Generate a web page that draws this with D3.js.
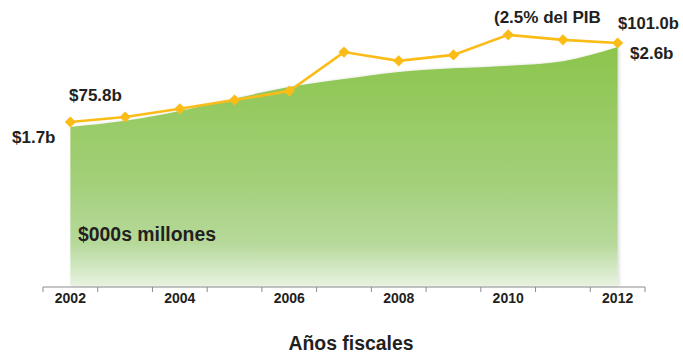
<!DOCTYPE html>
<html>
<head>
<meta charset="utf-8">
<script src="https://cdn.jsdelivr.net/npm/d3@7"></script>
<style>
  body { margin: 0; background: #fff; }
  svg { display: block; font-family: "Liberation Sans", Arial, sans-serif; }
  text { fill: #231f20; font-weight: bold; }
</style>
</head>
<body>
<svg id="chart" width="683" height="354"></svg>
<script>
// Fiscal years
const years = [2002, 2003, 2004, 2005, 2006, 2007, 2008, 2009, 2010, 2011, 2012];
// Yellow line series ($b)
const lineValues = [75.8, 77.4, 80.0, 82.8, 85.7, 98.1, 95.3, 97.2, 103.6, 102.0, 101.0];
// Green area series ($b)
const areaValues = [1.7, 1.77, 1.88, 2.02, 2.15, 2.24, 2.32, 2.36, 2.39, 2.44, 2.6];
// Years that get a tick label
const tickYears = [2002, 2004, 2006, 2008, 2010, 2012];

const svg = d3.select("#chart");

// Scales
const x = d3.scaleBand()
    .domain(years)
    .range([43, 645])
    .padding(0);
const cx = d => x(d) + x.bandwidth() / 2;

const baseY = 287;

const yArea = d3.scaleLinear()
    .domain([1.7, 2.6])
    .range([127, 47]);

const yLine = d3.scaleLinear()
    .domain([75.8, 101.0])
    .range([122, 43]);

// Gradient for the area
const defs = svg.append("defs");
const grad = defs.append("linearGradient")
    .attr("id", "areaGrad")
    .attr("gradientUnits", "userSpaceOnUse")
    .attr("x1", 0).attr("y1", 45)
    .attr("x2", 0).attr("y2", baseY);
grad.append("stop").attr("offset", "0%").attr("stop-color", "#8cc54c");
grad.append("stop").attr("offset", "55%").attr("stop-color", "#a2cf78");
grad.append("stop").attr("offset", "82%").attr("stop-color", "#b6d99a");
grad.append("stop").attr("offset", "100%").attr("stop-color", "#e9f3e2");

const shadow = defs.append("filter").attr("id", "shadow")
    .attr("x", "-5%").attr("y", "-5%").attr("width", "110%").attr("height", "110%");
shadow.append("feDropShadow")
    .attr("dx", 1.5).attr("dy", 0).attr("stdDeviation", 1.5)
    .attr("flood-color", "#000").attr("flood-opacity", 0.15);

const areaData = years.map((yr, i) => ({ year: yr, value: areaValues[i] }));
const lineData = years.map((yr, i) => ({ year: yr, value: lineValues[i] }));

// Area
const area = d3.area()
    .x(d => cx(d.year))
    .y0(baseY - 1)
    .y1(d => yArea(d.value))
    .curve(d3.curveMonotoneX);

svg.append("path")
    .datum(areaData)
    .attr("d", area)
    .attr("fill", "url(#areaGrad)")
    .attr("filter", "url(#shadow)");

// Axis line and boundary ticks
svg.append("line")
    .attr("x1", x.range()[0]).attr("x2", x.range()[1])
    .attr("y1", baseY).attr("y2", baseY)
    .attr("stroke", "#8c8c8c")
    .attr("stroke-width", 1);

const bounds = years.map(d => x(d)).concat([x.range()[1]]);
svg.selectAll(".bound-tick")
    .data(bounds)
    .enter().append("line")
    .attr("class", "bound-tick")
    .attr("x1", d => d).attr("x2", d => d)
    .attr("y1", baseY).attr("y2", baseY + 5)
    .attr("stroke", "#8c8c8c");

// Tick labels
const xAxis = svg.append("g")
    .attr("transform", "translate(0," + baseY + ")")
    .call(d3.axisBottom(x).tickValues(tickYears).tickSize(0).tickPadding(6.5));
xAxis.select(".domain").remove();
xAxis.selectAll("text")
    .attr("font-size", 14)
    .attr("font-family", "Liberation Sans, Arial, sans-serif")
    .style("fill", "#231f20");

// Line
const line = d3.line()
    .x(d => cx(d.year))
    .y(d => yLine(d.value));

svg.append("path")
    .datum(lineData)
    .attr("d", line)
    .attr("fill", "none")
    .attr("stroke", "#fbbc18")
    .attr("stroke-width", 2.6);

svg.selectAll(".marker")
    .data(lineData)
    .enter().append("path")
    .attr("class", "marker")
    .attr("transform", d => "translate(" + cx(d.year) + "," + yLine(d.value) + ") rotate(45)")
    .attr("d", d3.symbol().type(d3.symbolSquare).size(62))
    .attr("fill", "#fbbc18");

// Annotations
const notes = [
    { text: "$75.8b", x: 69, y: 101, size: 17 },
    { text: "$1.7b", x: 12, y: 143, size: 17 },
    { text: "(2.5% del PIB", x: 494, y: 23, size: 17 },
    { text: "$101.0b", x: 618, y: 28.5, size: 16.6 },
    { text: "$2.6b", x: 630, y: 58.5, size: 17 },
    { text: "$000s millones", x: 78, y: 241, size: 19.4 }
];
svg.selectAll(".note")
    .data(notes)
    .enter().append("text")
    .attr("class", "note")
    .attr("x", d => d.x)
    .attr("y", d => d.y)
    .attr("font-size", d => d.size)
    .text(d => d.text);

// Axis title
svg.append("text")
    .attr("x", 351)
    .attr("y", 350)
    .attr("text-anchor", "middle")
    .attr("font-size", 19.4)
    .text("Años fiscales");
</script>
</body>
</html>
